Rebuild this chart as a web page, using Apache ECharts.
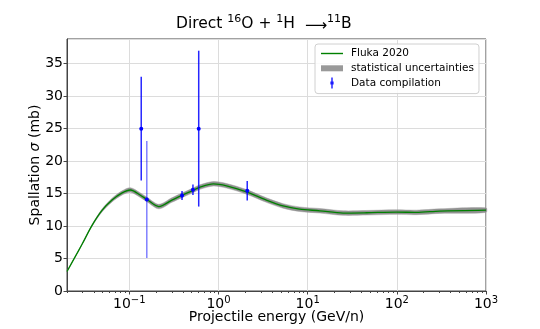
<!DOCTYPE html>
<html><head><meta charset="utf-8">
<script src="https://cdn.jsdelivr.net/npm/echarts@6/dist/echarts.min.js"></script>
<style>html,body{margin:0;padding:0;background:#fff}#c{width:540px;height:329px}</style>
</head><body><div id="c"></div>
<script>
// Fluka 2020 prediction (GeV/n, mb)
const flukaEnergy = [0.02, 0.025, 0.0295, 0.0382, 0.0494, 0.064, 0.083, 0.103, 0.133, 0.158, 0.214, 0.30, 0.40, 0.52, 0.62, 0.875, 1.23, 2.06, 3.44, 5.3, 8.1, 13.7, 25, 46, 99, 166, 302, 1000];
const flukaSigma  = [3.0, 5.4, 7.2, 10.1, 12.4, 14.0, 15.1, 15.55, 14.75, 14.08, 13.0, 14.0, 14.8, 15.5, 16.0, 16.5, 16.2, 15.26, 14.0, 13.1, 12.6, 12.35, 12.0, 12.05, 12.15, 12.1, 12.3, 12.45];
const flukaStatErr = [0.0, 0.02, 0.05, 0.12, 0.22, 0.28, 0.32, 0.35, 0.35, 0.35, 0.35, 0.35, 0.35, 0.35, 0.35, 0.35, 0.35, 0.35, 0.35, 0.35, 0.35, 0.35, 0.35, 0.35, 0.35, 0.35, 0.35, 0.35];
// Data compilation
const dataEnergy = [0.136, 0.157, 0.39, 0.517, 0.60, 2.1];
const dataSigma  = [25.0, 14.1, 14.7, 15.6, 25.0, 15.45];
const dataError  = [8.0, 9.0, 0.7, 0.8, 12.0, 1.5];
// axes
const xMajorValues = [0.1, 1, 10, 100, 1000];
const xMajorExponents = ['−1', '0', '1', '2', '3'];
const yTickLabels = [0, 5, 10, 15, 20, 25, 30, 35];

const FONT = 'DejaVu Sans';
const barOpacity = [0.85, 0.5, 0.85, 0.85, 0.85, 0.85];

const minorTicks = [];
for (let k = -2; k < 3; k++) {
  for (let m = 2; m <= 9; m++) {
    const v = m * Math.pow(10, k);
    if (v >= 0.02 && v <= 1000) minorTicks.push(+v.toPrecision(3));
  }
}

const chart = echarts.init(document.getElementById('c'), null, {renderer: 'canvas'});
chart.setOption({
  animation: false,
  backgroundColor: '#fff',
  title: {
    left: 176, top: 14, padding: 0,
    text: 'Direct {s|16}O + {s|1}H  {b|⟶}{s|11}B',
    textStyle: {
      fontFamily: FONT, fontSize: 15.5, fontWeight: 'normal', color: '#000',
      rich: {
        s: {fontFamily: FONT, fontSize: 11, lineHeight: 8, verticalAlign: 'top', color: '#000'},
        b: {fontFamily: FONT, fontSize: 15.5, lineHeight: 20, verticalAlign: 'bottom', color: '#000'}
      },
      lineHeight: 20, verticalAlign: 'bottom'
    }
  },
  grid: {left: 67, right: 54, top: 39, bottom: 36, show: true, borderColor: '#444', borderWidth: 1, containLabel: false},
  legend: {
    orient: 'vertical', left: 315, top: 44,
    padding: [4, 5, 5, 6], itemWidth: 22, itemHeight: 11, itemGap: 3.8,
    borderColor: '#d0d0d0', borderWidth: 1, borderRadius: 3, backgroundColor: 'rgba(255,255,255,0.85)',
    textStyle: {fontFamily: FONT, fontSize: 10.5, color: '#000', lineHeight: 11, padding: [0, 0, 0, 3]},
    data: [
      {name: 'Fluka 2020', icon: 'path://M0,0 L0,0 M0,4.8 L22,4.8 L22,6.2 L0,6.2 Z M22,11 L22,11', itemStyle: {color: '#008000', borderWidth: 0}},
      {name: 'statistical uncertainties', icon: 'path://M0,0 L0,0 M0,2.5 L22,2.5 L22,8.5 L0,8.5 Z M22,11 L22,11', itemStyle: {color: '#999', borderWidth: 0}},
      {name: 'Data compilation', icon: 'path://M0,0 L0,0 M10.3,0 L11.7,0 L11.7,11 L10.3,11 Z M9.4,4 L12.6,4 L12.6,7 L9.4,7 Z M22,11 L22,11', itemStyle: {color: '#1a1aff', borderWidth: 0}}
    ]
  },
  xAxis: [{
    type: 'log', logBase: 10, min: 0.02, max: 1000,
    name: 'Projectile energy (GeV/n)', nameLocation: 'middle', nameGap: 19, nameMoveOverlap: false,
    nameTextStyle: {fontFamily: FONT, fontSize: 14, color: '#000', verticalAlign: 'top'},
    axisLine: {show: true, lineStyle: {color: '#444', width: 1}},
    axisTick: {show: true, inside: false, length: 3.5, lineStyle: {color: '#444'}},
    splitLine: {show: true, lineStyle: {color: '#dcdcdc', width: 1}},
    axisLabel: {
      margin: 4.5, showMinLabel: false,
      fontFamily: FONT, fontSize: 14, color: '#000',
      formatter: function (v) {
        for (let i = 0; i < xMajorValues.length; i++) {
          if (Math.abs(v / xMajorValues[i] - 1) < 1e-6) return '{b|10}{s|' + xMajorExponents[i] + '}';
        }
        return '';
      },
      rich: {
        b: {fontFamily: FONT, fontSize: 14, lineHeight: 16, verticalAlign: 'bottom', color: '#000'},
        s: {fontFamily: FONT, fontSize: 10, lineHeight: 7, verticalAlign: 'top', color: '#000'}
      }
    }
  }, {
    type: 'log', logBase: 10, min: 0.02, max: 1000, gridIndex: 0, position: 'bottom',
    axisLine: {show: false}, axisLabel: {show: false}, splitLine: {show: false},
    axisTick: {show: true, inside: false, length: 2, customValues: minorTicks, lineStyle: {color: '#444'}}
  }],
  yAxis: {
    type: 'value', min: 0, max: 38.8, interval: 5,
    name: 'Spallation {i|σ} (mb)', nameLocation: 'middle', nameGap: 25, nameRotate: 90, nameMoveOverlap: false,
    nameTextStyle: {fontFamily: FONT, fontSize: 14, color: '#000',
      rich: {i: {fontFamily: FONT, fontSize: 14, fontStyle: 'italic', color: '#000'}}},
    axisLine: {show: true, lineStyle: {color: '#444', width: 1}},
    axisTick: {show: true, inside: false, length: 3.5, lineStyle: {color: '#444'}},
    splitLine: {show: true, lineStyle: {color: '#dcdcdc', width: 1}},
    axisLabel: {margin: 4, showMaxLabel: false, fontFamily: FONT, fontSize: 14, color: '#000',
      formatter: function (v) { return yTickLabels.indexOf(v) >= 0 ? String(v) : ''; }}
  },
  series: [
    {
      name: 'statistical uncertainties', type: 'custom', z: 2, silent: true,
      itemStyle: {color: '#999'},
      encode: {x: 0, y: [1, 2]},
      data: flukaEnergy.map((e, i) => [e, flukaSigma[i] - flukaStatErr[i], flukaSigma[i] + flukaStatErr[i]]),
      renderItem: function (params, api) {
        if (params.dataIndexInside !== 0) return null;
        const n = params.dataInsideLength;
        const up = [], lo = [];
        for (let i = 0; i < n; i++) {
          const x = api.value(0, i);
          up.push(api.coord([x, api.value(2, i)]));
          lo.push(api.coord([x, api.value(1, i)]));
        }
        return {
          type: 'polygon',
          shape: {points: up.concat(lo.slice().reverse()), smooth: 0.3},
          style: {fill: 'rgba(125,125,125,0.85)', stroke: 'rgba(160,160,160,0.6)', lineWidth: 0.8}
        };
      }
    },
    {
      name: 'Fluka 2020', type: 'line', smooth: 0.3, symbol: 'none',
      lineStyle: {color: '#008000', width: 1.3}, itemStyle: {color: '#008000'}, z: 3,
      data: flukaEnergy.map((e, i) => [e, flukaSigma[i]])
    },
    {
      name: 'Data compilation', type: 'custom', z: 4, itemStyle: {color: '#1a1aff'},
      encode: {x: 0, y: 1},
      data: dataEnergy.map((e, i) => [e, dataSigma[i], dataError[i]]),
      renderItem: function (params, api) {
        const x = api.value(0), y = api.value(1), err = api.value(2);
        const top = api.coord([x, y + err]);
        const bot = api.coord([x, y - err]);
        const c = api.coord([x, y]);
        const a = barOpacity[params.dataIndex];
        return {
          type: 'group',
          children: [
            {type: 'line', shape: {x1: top[0], y1: top[1], x2: bot[0], y2: bot[1]},
             style: {stroke: 'rgba(0,0,255,' + a + ')', lineWidth: 1.5}},
            {type: 'circle', shape: {cx: c[0], cy: c[1], r: 2}, style: {fill: '#0000ff'}}
          ]
        };
      }
    }
  ]
});
</script>
</body></html>
